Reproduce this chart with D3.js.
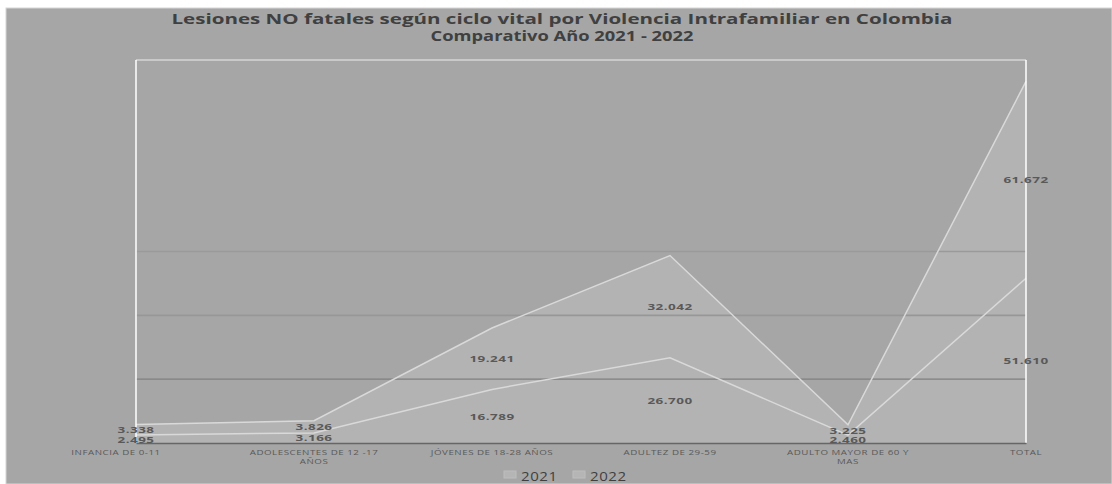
<!DOCTYPE html>
<html><head><meta charset="utf-8">
<script src="https://cdn.jsdelivr.net/npm/d3@7"></script>
<style>html,body{margin:0;padding:0;background:#fff;}svg{display:block;}</style>
</head><body>
<svg id="c" width="1112" height="484"></svg>
<script>
const categories = [["INFANCIA DE 0-11"], ["ADOLESCENTES DE 12 -17", "AÑOS"], ["JÓVENES DE 18-28 AÑOS"], ["ADULTEZ DE 29-59"], ["ADULTO MAYOR DE 60 Y", "MAS"], ["TOTAL"]];
const values2021 = [3338, 3826, 19241, 32042, 3225, 61672];
const values2022 = [2495, 3166, 16789, 26700, 2460, 51610];
const seriesNames = ["2021", "2022"];
const gridTicks = [20000, 40000, 60000];
const titleLines = ["Lesiones NO fatales según ciclo vital por Violencia Intrafamiliar en Colombia", "Comparativo Año 2021 - 2022"];

(function () {
const W = 1112, H = 484;
const svg = d3.select("#c");
svg.append("rect").attr("x", 6).attr("y", 8).attr("width", W - 6).attr("height", H - 8)
  .attr("fill", "#a6a6a6").attr("stroke", "#d6d6d6").attr("stroke-width", 1);

const pL = 136, pR = 1026, pT = 60, pB = 443;
const x = d3.scalePoint().domain(d3.range(categories.length)).range([pL, pR]);
const y = d3.scaleLinear().domain([0, 120000]).range([pB, pT]);

const fmt = v => d3.format(",")(v).replace(/,/g, ".");

const rows = categories.map((c, i) => ({i, v2021: values2021[i], v2022: values2022[i]}));
const stack = d3.stack().keys(["v2022", "v2021"])(rows);

const area = d3.area().x(d => x(d.data.i)).y0(d => y(d[0])).y1(d => y(d[1]));
const line = d3.line().x(d => x(d.data.i)).y(d => y(d[1]));

const g = svg.append("g");
stack.forEach(s => {
  g.append("path").datum(s).attr("d", area).attr("fill", "#ffffff").attr("fill-opacity", 0.15);
});
const gridCols = {20000: "#7f7f7f", 40000: "#979797", 60000: "#9a9a9a"};
g.selectAll(".grid").data(gridTicks).join("line")
  .attr("x1", pL).attr("x2", pR).attr("y1", d => y(d)).attr("y2", d => y(d))
  .attr("stroke", d => gridCols[d]).attr("stroke-width", d => d === 20000 ? 1.2 : 1.6);

stack.forEach(s => {
  g.append("path").datum(s).attr("d", line).attr("fill", "none").attr("stroke", "#d9d9d9").attr("stroke-width", 1.5);
});

svg.append("line").attr("x1", pL).attr("x2", pR).attr("y1", pT).attr("y2", pT).attr("stroke", "#d4d4d4").attr("stroke-width", 1.5);
svg.append("line").attr("x1", pL).attr("x2", pL).attr("y1", pT).attr("y2", pB).attr("stroke", "#ffffff").attr("stroke-width", 1.5);
svg.append("line").attr("x1", pR).attr("x2", pR).attr("y1", pT).attr("y2", pB).attr("stroke", "#ffffff").attr("stroke-width", 1.5);

const xAxis = d3.axisBottom(x).tickSize(0).tickFormat("");
const ax = svg.append("g").attr("transform", `translate(0,${pB})`).call(xAxis);
ax.select(".domain").attr("stroke", "#666666").attr("stroke-width", 1.5);
categories.forEach((lines, i) => {
  const cx = x(i) + (i === 0 ? -20 : 0);
  const t = svg.append("text").attr("transform", `translate(${cx},${pB + 12}) scale(1.3,1)`)
    .attr("text-anchor", "middle").attr("font-family", "Open Sans, sans-serif")
    .attr("font-size", 7.5).attr("fill", "#595959").attr("letter-spacing", 0.4);
  lines.forEach((l, k) => t.append("tspan").attr("x", 0).attr("dy", k === 0 ? 0 : 9).text(l));
});

stack.forEach(s => {
  svg.selectAll(null).data(s).join("text")
    .attr("transform", d => `translate(${x(d.data.i)},${(y(d[0]) + y(d[1])) / 2 + 3.5}) scale(1.5,1)`)
    .attr("text-anchor", "middle").attr("font-family", "Open Sans, sans-serif")
    .attr("font-weight", "bold").attr("font-size", 9).attr("letter-spacing", 0.3).attr("fill", "#595959")
    .text(d => fmt(d[1] - d[0]));
});

const titleW = [781, 263];
svg.selectAll(".title").data(titleLines).join("text")
  .attr("x", 562).attr("y", (d, i) => 24 + i * 17).attr("text-anchor", "middle")
  .attr("textLength", (d, i) => titleW[i]).attr("lengthAdjust", "spacingAndGlyphs")
  .attr("font-family", "Open Sans, sans-serif").attr("font-weight", "bold").attr("font-size", 14)
  .attr("fill", "#404040").text(d => d);

const leg = svg.append("g");
const legX = [504, 573];
seriesNames.forEach((n, i) => {
  leg.append("rect").attr("x", legX[i]).attr("y", 471).attr("width", 12).attr("height", 7).attr("fill", "#b5b5b5").attr("stroke", "#bdbdbd");
  leg.append("text").attr("transform", `translate(${legX[i] + 17},481) scale(1.2,1)`).attr("font-family", "Open Sans, sans-serif")
    .attr("font-size", 12.5).attr("letter-spacing", 0.5).attr("fill", "#404040").text(n);
});
})();
</script>
</body></html>
